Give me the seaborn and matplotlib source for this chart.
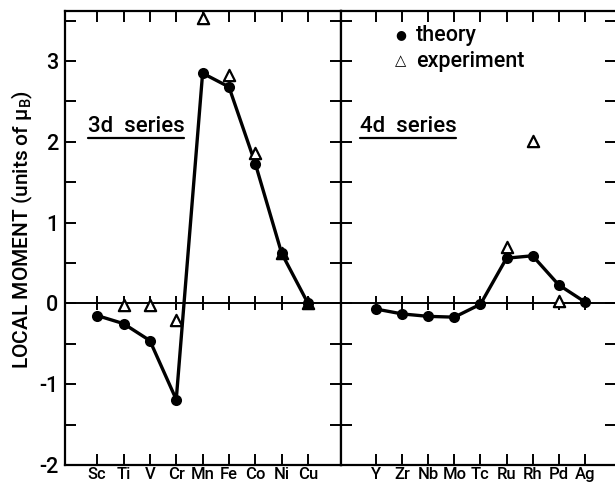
import numpy as np
import pandas as pd
import matplotlib
matplotlib.use("Agg")
import matplotlib.pyplot as plt
import seaborn as sns

# ---------------- data ----------------
el3 = ['Sc', 'Ti', 'V', 'Cr', 'Mn', 'Fe', 'Co', 'Ni', 'Cu']
theory3 = [-0.15, -0.25, -0.46, -1.19, 2.85, 2.68, 1.73, 0.62, 0.0]
exp3_el = ['Ti', 'V', 'Cr', 'Mn', 'Fe', 'Co', 'Ni', 'Cu']
exp3 = [-0.02, -0.02, -0.20, 3.53, 2.83, 1.86, 0.62, 0.0]
exp3_filled = [False, False, False, False, False, False, True, True]

el4 = ['Y', 'Zr', 'Nb', 'Mo', 'Tc', 'Ru', 'Rh', 'Pd', 'Ag']
theory4 = [-0.07, -0.13, -0.16, -0.17, -0.01, 0.56, 0.59, 0.23, 0.02]
exp4_el = ['Ru', 'Rh', 'Pd']
exp4 = [0.70, 2.01, 0.03]
exp4_filled = [False, False, False]

y_ticks_major = [-2, -1, 0, 1, 2, 3]
y_ticks_minor = [-1.5, -0.5, 0.5, 1.5, 2.5, 3.5]

# ---------------- style ----------------
sns.set_style("ticks")
plt.rcParams['font.family'] = ['Roboto', 'DejaVu Sans']
plt.rcParams['font.weight'] = 'medium'
plt.rcParams['mathtext.fontset'] = 'custom'
plt.rcParams['mathtext.rm'] = 'Roboto:medium'
for k in ['text.color', 'axes.labelcolor', 'xtick.color', 'ytick.color', 'axes.edgecolor']:
    plt.rcParams[k] = 'black'

FW = 'medium'
fig = plt.figure(figsize=(6.15, 4.83), dpi=100)
W, H = 615, 483
bot = 1 - 465 / H
top = 1 - 11 / H
axL = fig.add_axes([65 / W, bot, (341 - 65) / W, top - bot])
axR = fig.add_axes([341 / W, bot, (616 - 341) / W, top - bot], sharey=axL)

LW = 2.4
panels = [
    (axL, el3, theory3, exp3_el, exp3, exp3_filled, (-1.22, 9.25), '3d  series', (88, 126)),
    (axR, el4, theory4, exp4_el, exp4, exp4_filled, (-1.35, 9.2), '4d  series', (360, 126)),
]

for ax, els, th, eel, ex, filled, xlim, lab, labpos in panels:
    pos = {e: i for i, e in enumerate(els)}
    dft = pd.DataFrame({'x': [pos[e] for e in els], 'y': th})
    dfe = pd.DataFrame({'x': [pos[e] for e in eel], 'y': ex, 'filled': filled})

    # zero line with crossing ticks at each element
    ax.axhline(0, color='black', lw=1.4, zorder=1)
    sns.scatterplot(data=dft, x='x', y=[0] * len(els), marker='|', s=110,
                    color='black', linewidth=1.4, ax=ax, zorder=1, legend=False)

    sns.lineplot(data=dft, x='x', y='y', color='black', lw=LW, ax=ax,
                 zorder=3, legend=False)
    sns.scatterplot(data=dft, x='x', y='y', color='black', s=64, marker='o',
                    edgecolor='black', linewidth=0, ax=ax, zorder=4, legend=False)
    for fl in (False, True):
        sub = dfe[dfe['filled'] == fl]
        if len(sub):
            sns.scatterplot(data=sub, x='x', y='y', marker='^', s=66,
                            facecolor='black' if fl else 'white',
                            edgecolor='black', linewidth=1.6, ax=ax,
                            zorder=5, legend=False)

    ax.set_xlim(*xlim)
    ax.set_xticks(range(len(els)))
    ax.set_xticklabels(els, fontsize=12, fontweight=FW)
    ax.tick_params(axis='x', direction='in', length=8, width=1.4, top=True,
                   bottom=True, pad=1.5)
    ax.set_xlabel('')
    ax.set_ylabel('')
    for s in ax.spines.values():
        s.set_linewidth(1.6)
        s.set_color('black')

    fig.text(labpos[0] / W, 1 - labpos[1] / H, lab, fontsize=16,
             va='center', ha='left', fontweight=FW)
    # underline
    fig.add_artist(plt.Line2D([labpos[0] / W, (labpos[0] + 96) / W],
                              [1 - (labpos[1] + 12) / H] * 2,
                              color='black', lw=1.6))

axL.set_ylim(-2, 3.62)
axL.set_yticks(y_ticks_major)
axL.set_yticks(y_ticks_minor, minor=True)
axL.set_yticklabels([str(v) for v in y_ticks_major], fontsize=15.5, fontweight=FW)
axL.tick_params(axis='y', which='both', direction='in', length=8, width=1.4,
                left=True, right=True, pad=5)
axL.spines['right'].set_visible(True)

axR.tick_params(axis='y', which='both', direction='in', length=8, width=1.4,
                left=True, right=True, labelleft=False)
axR.spines['right'].set_visible(False)

fig.text(22 / W, 1 - 230 / H, 'LOCAL MOMENT (units of \u03bc$_\\mathrm{B}$)',
         fontsize=15, rotation=90, va='center', ha='center', fontweight=FW)

# legend (custom)
fig.text(401 / W, 1 - 35 / H, '\u25CF', fontsize=9, va='center', ha='center')
fig.text(416 / W, 1 - 35 / H, 'theory', fontsize=15.5, va='center', ha='left',
         fontweight=FW)
fig.text(401 / W, 1 - 61 / H, '\u25B3', fontsize=10.5, va='center', ha='center',
         family='DejaVu Sans', fontweight='bold')
fig.text(416 / W, 1 - 61 / H, 'experiment', fontsize=15.5, va='center', ha='left',
         fontweight=FW)

fig.savefig('out.png', dpi=100)
